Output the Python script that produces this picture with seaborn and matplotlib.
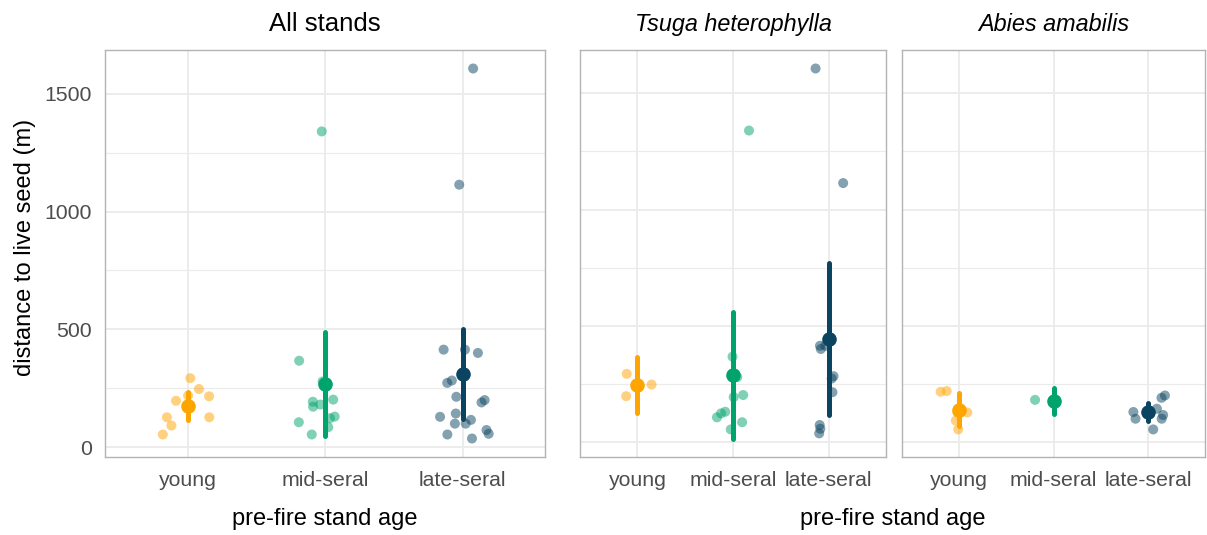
import math

import numpy as np
import pandas as pd
import matplotlib
matplotlib.use("Agg")
import matplotlib.pyplot as plt
from matplotlib.ticker import MultipleLocator
import seaborn as sns

# ---- data: distance to nearest live seed source (m), by species and pre-fire stand age
ages = ["young", "mid-seral", "late-seral"]

tsuga_young = [293, 247, 197]
tsuga_mid = [1340, 367, 279, 202, 193, 130, 123, 106, 85, 54]
tsuga_late = [1607, 1114, 414, 414, 400, 283, 273, 214, 73, 57, 37]

abies_young = [219, 216, 127, 127, 92, 54]
abies_mid = [181, 172]
abies_late = [200, 190, 143, 129, 116, 100, 100, 54]

species_titles = ["Tsuga heterophylla", "Abies amabilis"]
y_ticks = [0, 500, 1000, 1500]

palette = {"young": "#FFA500", "mid-seral": "#00A36C", "late-seral": "#0B4461"}


def frame(species, groups):
    rows = []
    for age, vals in zip(ages, groups):
        rows += [(species, age, v) for v in vals]
    return pd.DataFrame(rows, columns=["species", "age", "dist"])


tsuga = frame(species_titles[0], [tsuga_young, tsuga_mid, tsuga_late])
abies = frame(species_titles[1], [abies_young, abies_mid, abies_late])
all_stands = pd.concat([tsuga, abies], ignore_index=True)


# ---- mean with t-based 95% confidence interval
def t_quantile(p, df):
    try:
        from scipy import stats
        return float(stats.t.ppf(p, df))
    except ImportError:
        c = math.gamma((df + 1) / 2) / (math.sqrt(df * math.pi) * math.gamma(df / 2))

        def cdf(x):
            t = np.linspace(0.0, x, 20001)
            return 0.5 + np.trapezoid(c * (1 + t ** 2 / df) ** (-(df + 1) / 2), t)

        lo, hi = 0.0, 200.0
        for _ in range(60):
            mid = (lo + hi) / 2
            if cdf(mid) < p:
                lo = mid
            else:
                hi = mid
        return (lo + hi) / 2


def mean_cl_normal(v):
    v = np.asarray(v, dtype=float)
    m = v.mean()
    half = t_quantile(0.975, len(v) - 1) * v.std(ddof=1) / math.sqrt(len(v))
    return m - half, m + half


def data_span(df):
    """Range covered by the raw points and the interval bars."""
    lo, hi = df["dist"].min(), df["dist"].max()
    for _, g in df.groupby("age"):
        a, b = mean_cl_normal(g["dist"])
        lo, hi = min(lo, a), max(hi, b)
    return lo, hi


def expanded(lo, hi, frac=0.05):
    pad = frac * (hi - lo)
    return lo - pad, hi + pad


# ---- styling
sns.set_theme(style="white")
plt.rcParams["font.family"] = ["Liberation Sans", "DejaVu Sans"]

GRID = "#EBEBEB"
BORDER = "#B3B3B3"
TEXT = "#4D4D4D"

W, H = 1207, 535
fig = plt.figure(figsize=(W / 100, H / 100), dpi=100)


def px_axes(x0, x1, y0, y1):
    return fig.add_axes([x0 / W, 1 - y1 / H, (x1 - x0) / W, (y1 - y0) / H])


ax_all = px_axes(105, 545, 50, 457)
ax_ts = px_axes(580, 886, 50, 457)
ax_ab = px_axes(902, 1205, 50, 457)


def draw(ax, df, ylim, seed):
    np.random.seed(seed)
    sns.stripplot(data=df, x="age", y="dist", hue="age", order=ages, hue_order=ages,
                  palette=palette, jitter=0.2, size=7.2, alpha=0.5, linewidth=0,
                  legend=False, ax=ax, zorder=2)
    sns.pointplot(data=df, x="age", y="dist", hue="age", order=ages, hue_order=ages,
                  palette=palette, errorbar=mean_cl_normal, markers="o",
                  linestyles="none", markersize=10.5, markeredgewidth=0,
                  err_kws={"linewidth": 3.6}, legend=False, ax=ax)
    for c in ax.collections:
        c.set_zorder(2)
    for ln in ax.lines:
        ln.set_zorder(3)
    ax.set_xlim(-0.6, 2.6)
    ax.set_ylim(*ylim)
    ax.set_yticks(y_ticks)
    ax.yaxis.set_minor_locator(MultipleLocator(250))
    ax.set_axisbelow(True)
    ax.grid(True, which="major", color=GRID, linewidth=1.3)
    ax.grid(True, which="minor", axis="y", color=GRID, linewidth=0.8)
    ax.set_xlabel("")
    ax.set_ylabel("")
    ax.tick_params(which="major", length=5, width=1.0, color=BORDER,
                   labelsize=15.3, labelcolor=TEXT)
    ax.tick_params(axis="x", pad=5)
    ax.tick_params(axis="y", pad=4.5)
    ax.tick_params(which="minor", length=0)
    for s in ax.spines.values():
        s.set_visible(True)
        s.set_color(BORDER)
        s.set_linewidth(1.0)


draw(ax_all, all_stands, expanded(*data_span(all_stands)), 3)

# the two species panels share one y scale
ts_span, ab_span = data_span(tsuga), data_span(abies)
species_lim = expanded(min(ts_span[0], ab_span[0]), max(ts_span[1], ab_span[1]))
draw(ax_ts, tsuga, species_lim, 5)
draw(ax_ab, abies, species_lim, 11)

ax_ts.tick_params(axis="y", labelleft=False)
ax_ab.tick_params(axis="y", left=False, labelleft=False)

ax_all.set_title("All stands", fontsize=18.5, color="black", pad=14)
for ax, title in zip([ax_ts, ax_ab], species_titles):
    ax.set_title(title, fontsize=16.8, style="italic", color="black", pad=14)

fig.text(25 / W, 1 - 247 / H, "distance to live seed (m)", rotation=90,
         ha="center", va="center", fontsize=17, color="black")
fig.text(325 / W, 1 - 519 / H, "pre-fire stand age", ha="center", va="center",
         fontsize=17, color="black")
fig.text(893 / W, 1 - 519 / H, "pre-fire stand age", ha="center", va="center",
         fontsize=17, color="black")

fig.savefig("out.png", dpi=100, facecolor="white")
